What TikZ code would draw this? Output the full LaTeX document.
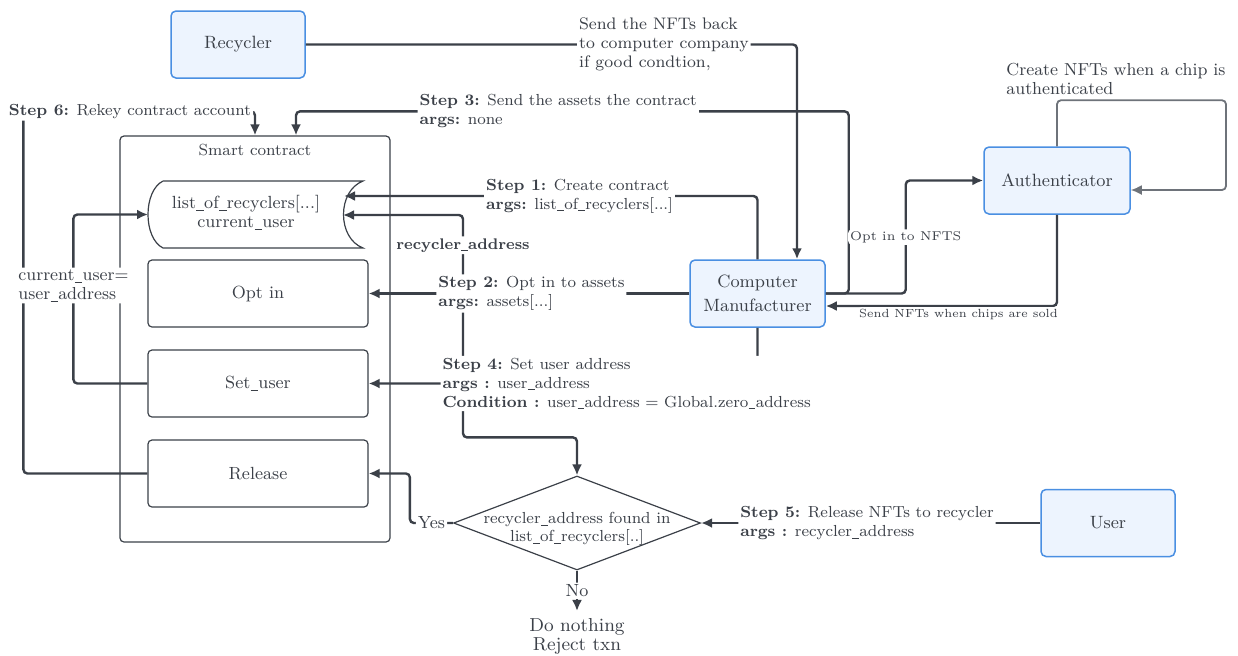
\documentclass[tikz,border=0pt]{standalone}
\usetikzlibrary{arrows.meta,shapes.geometric}

\definecolor{ink}{HTML}{3B4048}
\definecolor{actorblue}{HTML}{4A8FE2}
\definecolor{actorfill}{HTML}{EDF4FE}
\definecolor{loopgray}{HTML}{6E737A}

% a shorter underscore, closer to the drawing
\newcommand{\us}{\kern0.02em\rule[-0.3ex]{0.42em}{0.045em}\kern0.02em}

\tikzset{
  flowtip/.tip={Latex[length=5.5pt,width=5pt]},
  actor/.style={draw=actorblue, fill=actorfill, line width=0.75pt, rounded corners=2.5pt,
    minimum width=67pt, minimum height=33.5pt, align=center, text=ink,
    font=\fontsize{8.9}{12}\selectfont},
  func/.style={draw=ink, line width=0.6pt, rounded corners=2pt, minimum width=110pt,
    minimum height=33.5pt, text=ink, font=\fontsize{8.8}{11}\selectfont},
  flow/.style={draw=ink, line width=1.2pt, rounded corners=2pt, -flowtip},
  steplbl/.style={fill=white, align=left, inner sep=1pt, text=ink,
    font=\fontsize{8}{9.5}\selectfont},
  note/.style={fill=white, align=left, inner sep=1pt, text=ink,
    font=\fontsize{5.9}{9.5}\selectfont},
}

\begin{document}
\begin{tikzpicture}[x=0.5pt, y=-0.5pt]
    \useasboundingbox (0,0) rectangle (1238,655);

    % Actors
    \node[actor] (recycler) at (238,44.5) {Recycler};
    \node[actor, minimum width=67.5pt] (maker) at (757.5,293.5) {Computer\\Manufacturer};
    \node[actor, minimum width=73pt] (auth) at (1057,180.5) {Authenticator};
    \node[actor] (user) at (1108,523) {User};

    % Smart contract frame
    \node[draw=ink, line width=0.6pt, rounded corners=2pt, minimum width=135pt,
      minimum height=203pt] (contract) at (255,339) {};
    \node[text=ink, font=\fontsize{8.05}{11}\selectfont] (contractlbl) at (255,150) {Smart contract};

    % Stored state
    \draw[ink, line width=0.6pt] (163,181) -- (363,181)
      .. controls (337,191) and (337,238) .. (363,248) -- (163,248)
      .. controls (143,238) and (143,191) .. (163,181);
    \node[text=ink, align=center, font=\fontsize{8.8}{9.5}\selectfont] (store) at (246,213)
      {list\us of\us recyclers[...]\\current\us user};
    \coordinate (storeL) at (148,214.5);
    \coordinate (storeIn1) at (344,196);
    \coordinate (storeIn2) at (343,215);

    % Contract methods
    \foreach \fname/\txt/\y in {optin/Opt in/293.5, setuser/Set\us user/383.5, release/Release/473.5}
        \node[func] (\fname) at (258,\y) {\txt};

    % Check and its outcome
    \node[draw=ink, line width=0.6pt, diamond, minimum width=123.5pt, minimum height=47pt,
      inner sep=0pt] (check) at (577,523) {};
    \node[text=ink, align=center, font=\fontsize{8}{9}\selectfont] (checktxt) at (577,529)
      {recycler\us address found in\\list\us of\us recyclers[..]};
    \node[text=ink, align=center, font=\fontsize{9.4}{9.5}\selectfont] (nothing) at (577,636)
      {Do nothing\\Reject txn};

    % Lines that run under labels go first
    \draw[flow, flowtip-flowtip] (storeIn2) -- ++(120,0)
      |- ([yshift=19pt]check.north)
      node[steplbl, pos=0.068, font=\fontsize{7.7}{9.5}\selectfont] {\textbf{recycler\us address}}
      -- (check.north);
    \draw[flow] (release.west) -- ++(-124,0)
      |- ([yshift=12pt]contract.north) node[steplbl, pos=0.73] {\textbf{Step 6:} Rekey contract account}
      -- (contract.north);

    % Steps
    \draw[flow] (maker.north) |- (storeIn1)
      node[steplbl, anchor=west, pos=0.832] {\textbf{Step 1:} Create contract\\\textbf{args:} list\us of\us recyclers[...]};
    \draw[flow] (maker.west) -- (optin.east)
      node[steplbl, anchor=west, pos=0.792] {\textbf{Step 2:} Opt in to assets\\\textbf{args:} assets[...]};
    \draw[flow] (maker.east) -- ++(23,0)
      |- ([xshift=20.5pt,yshift=12pt]contract.north)
      node[steplbl, anchor=west, pos=0.891] {\textbf{Step 3:} Send the assets the contract\\\textbf{args:} none}
      -- ([xshift=20.5pt]contract.north);
    \draw[flow] (maker.south) |- (setuser.east)
      node[steplbl, anchor=west, pos=0.909] {\textbf{Step 4:} Set user address\\\textbf{args :} user\us address\\\textbf{Condition :} user\us address = Global.zero\us address};
    \draw[flow] (user.west) -- (check.east)
      node[steplbl, anchor=west, pos=0.894] {\textbf{Step 5:} Release NFTs to recycler\\\textbf{args :} recycler\us address};
    \draw[flow] (setuser.west) -- ++(-74,0) |- (storeL)
      node[steplbl, pos=0.29, font=\fontsize{8.7}{9.5}\selectfont] {current\us user=\\user\us address};

    % Check branches
    \draw[flow] (check.west) -- ++(-43,0) node[steplbl, midway, font=\fontsize{8.8}{9.5}\selectfont] {Yes} |- (release.east);
    \draw[flow] (check.south) -- (nothing.north) node[steplbl, midway, font=\fontsize{8.8}{9.5}\selectfont] {No};

    % Token flow between actors
    \draw[flow] (recycler.east) -| ([xshift=19.75pt]maker.north)
      node[steplbl, anchor=west, pos=0.275, font=\fontsize{8.35}{9.5}\selectfont]
      {Send the NFTs back\\to computer company\\if good condtion,};
    \draw[flow] (maker.east) -- ++(80,0) |- (auth.west)
      node[note, pos=0.25, font=\fontsize{6.4}{9.5}\selectfont] {Opt in to NFTS};
    \draw[flow] (auth.south) |- ([yshift=-6.25pt]maker.east)
      node[note, below=0pt, pos=0.713] {Send NFTs when chips are sold};
    \draw[flow, draw=loopgray, line width=0.9pt] (auth.north) -- ++(0,-46) -- ++(169,0)
      |- ([yshift=-4.75pt]auth.east);
    \node[steplbl, anchor=west, font=\fontsize{8.7}{9.5}\selectfont] (looplbl) at (1004,79)
      {Create NFTs when a chip is\\authenticated};

\end{tikzpicture}
\end{document}
